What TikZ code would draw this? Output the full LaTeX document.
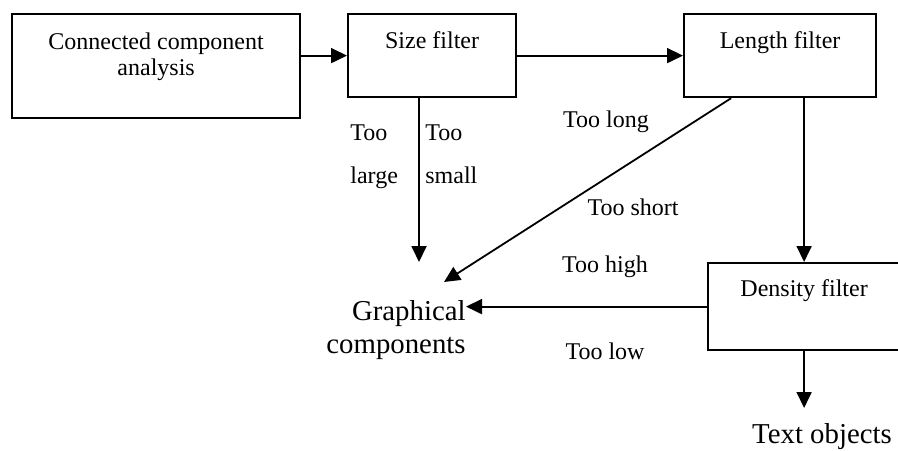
\documentclass[tikz,border=0pt]{standalone}
\usepackage{fontspec}
\setmainfont{Liberation Serif}
\usetikzlibrary{arrows.meta}

\begin{document}
\begin{tikzpicture}[x=0.5pt, y=-0.5pt, >={Triangle[length=8pt,width=7.5pt]}, font=\fontsize{12}{13}\selectfont]
\tikzstyle{block} = [draw, line width=1.1pt, anchor=north west, align=center, inner sep=0pt]
\tikzstyle{link} = [->, line width=0.9pt]
\tikzstyle{why} = [inner sep=0pt, anchor=base]
\tikzstyle{whypair} = [inner sep=0pt, anchor=base west, align=left, font=\fontsize{12}{21.5}\selectfont]
\tikzstyle{sink} = [inner sep=0pt, font=\fontsize{14.4}{16.5}\selectfont]

\useasboundingbox (0,0) rectangle (898,450);

% filter chain
\node[block, minimum width=144pt, text height=30.5pt, text depth=21.5pt] (cca) at (11,13) {Connected component\\analysis};
\node[block, minimum width=84pt, text height=17pt, text depth=24.5pt] (size) at (347,13) {Size filter};
\node[block, minimum width=96pt, text height=17pt, text depth=24.5pt] (length) at (683,13) {Length filter};
\node[block, minimum width=96pt, text height=16.5pt, text depth=27pt] (density) at (707,262) {Density filter};

% outputs
\node[sink, align=right, anchor=east] (graph) at (466,330) {Graphical\\components};
\node[sink] (txt) at (822,437) {Text objects};

\coordinate (gsize) at (419,262);
\coordinate (glen) at (444,282);
\coordinate (tdown) at (803,408);

\draw[link] (cca.east |- size.west) -- (size.west);
\draw[link] (size.east) -- (length.west);
\draw[link] (size.south -| gsize) -- (gsize);
\draw[link] ([xshift=-24.5pt]length.south) -- (glen);
\draw[link] (length.south -| density.north) -- (density.north);
\draw[link] (density.west) -- (density.west -| graph.east);
\draw[link] (density.south) -- (density.south |- tdown);

% reasons
\node[whypair] (large) at (350,183) {Too\\large};
\node[whypair] (small) at (425,183) {Too\\small};
\node[why] (long) at (606,127) {Too long};
\node[why] (short) at (633,215) {Too short};
\node[why] (high) at (605,272) {Too high};
\node[why] (low) at (605,359) {Too low};
\end{tikzpicture}
\end{document}
